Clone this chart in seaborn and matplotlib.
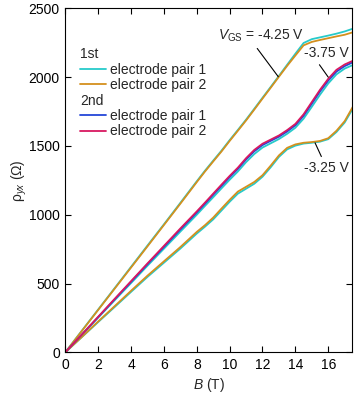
import numpy as np
import pandas as pd
import seaborn as sns
import matplotlib.pyplot as plt
from matplotlib.lines import Line2D

sns.set_theme(style="ticks")
plt.rcParams['font.family'] = ['Liberation Sans', 'DejaVu Sans']
plt.rcParams['mathtext.fontset'] = 'custom'
plt.rcParams['mathtext.rm'] = 'Liberation Sans'
plt.rcParams['mathtext.it'] = 'Liberation Sans:italic'

# magnetic field (T)
B = [0, 1, 2, 3, 4, 5, 6, 7, 8, 8.5, 9, 9.5, 10, 10.5, 11, 11.5, 12, 12.5,
     13, 13.5, 14, 14.5, 15, 15.5, 16, 16.5, 17, 17.5]

# rho_yx (Ohm)
top_pair1_1st = [0, 156, 311, 466, 621, 776, 930, 1086, 1243, 1320, 1393, 1465, 1542, 1616,
                 1691, 1770, 1850, 1929, 2009, 2090, 2170, 2248, 2276, 2289, 2302, 2316, 2332, 2352]
top_pair2_1st = [0, 154, 308, 462, 616, 770, 925, 1080, 1237, 1314, 1387, 1459, 1536, 1610,
                 1685, 1764, 1844, 1923, 2003, 2082, 2157, 2231, 2256, 2270, 2283, 2296, 2308, 2326]
mid_pair1_1st = [0, 126, 252, 378, 503, 629, 753, 877, 1000, 1064, 1127, 1191, 1254, 1314,
                 1382, 1441, 1488, 1519, 1550, 1588, 1632, 1698, 1784, 1872, 1954, 2020, 2062, 2088]
mid_pair1_2nd = [0, 128, 256, 384, 512, 640, 766, 892, 1016, 1080, 1145, 1209, 1273, 1333,
                 1402, 1461, 1506, 1537, 1567, 1605, 1650, 1719, 1807, 1896, 1975, 2040, 2080, 2108]
mid_pair2_2nd = [0, 129, 258, 388, 517, 646, 773, 900, 1024, 1088, 1153, 1218, 1282, 1342,
                 1411, 1471, 1516, 1546, 1576, 1615, 1660, 1730, 1819, 1908, 1988, 2053, 2092, 2119]
low_pair1_1st = [0, 110, 220, 329, 439, 548, 651, 754, 863, 913, 966, 1030, 1094, 1153,
                 1189, 1225, 1276, 1345, 1420, 1475, 1502, 1517, 1523, 1531, 1549, 1601, 1670, 1772]
low_pair2_1st = [0, 111, 224, 335, 447, 557, 661, 765, 875, 924, 979, 1044, 1108, 1168,
                 1203, 1238, 1287, 1357, 1431, 1486, 1511, 1523, 1528, 1536, 1556, 1610, 1680, 1785]

series = ["1st pair 1", "1st pair 2", "2nd pair 1", "2nd pair 2"]
palette = {"1st pair 1": "#26CACA", "1st pair 2": "#D4901E",
           "2nd pair 1": "#2446D8", "2nd pair 2": "#D81860"}

curves = [("-4.25", "1st pair 1", top_pair1_1st), ("-4.25", "1st pair 2", top_pair2_1st),
          ("-3.75", "1st pair 1", mid_pair1_1st), ("-3.75", "2nd pair 1", mid_pair1_2nd),
          ("-3.75", "2nd pair 2", mid_pair2_2nd),
          ("-3.25", "1st pair 1", low_pair1_1st), ("-3.25", "1st pair 2", low_pair2_1st)]
rows = []
for vgs, s, vals in curves:
    for b, r in zip(B, vals):
        rows.append({"B": b, "rho": r, "series": s, "vgs": vgs})
df = pd.DataFrame(rows)

fig = plt.figure(figsize=(3.54, 3.97), dpi=100)
ax = fig.add_axes([0.1845, 0.1126, 0.81, 0.8664])

sns.lineplot(data=df, x="B", y="rho", hue="series", hue_order=series, units="vgs",
             estimator=None, palette=palette, lw=1.3, legend=False, ax=ax, sort=False)

ax.set_xlim(0, 17.45)
ax.set_ylim(0, 2500)
ax.set_xticks(range(0, 17, 2))
ax.set_yticks(range(0, 2501, 500))
ax.tick_params(direction="in", top=True, right=True, length=4.5, width=0.8,
               labelsize=10, colors="black", pad=4)
for sp in ax.spines.values():
    sp.set_visible(True)
    sp.set_color("black")
    sp.set_linewidth(0.8)
ax.set_xlabel(r"$\it{B}$ (T)", fontsize=10, labelpad=3)
ax.set_ylabel(r"ρ$_{\it{yx}}$ ($\it{Ω}$)", fontsize=10, labelpad=0)

# gate voltage labels
line_kw = dict(arrowstyle="-", color="black", lw=0.8, shrinkA=1, shrinkB=0)
ax.annotate(r"$\it{V}_{\rm GS}$ = -4.25 V", xy=(12.96, 2003), xytext=(11.9, 2300),
            ha="center", va="center", fontsize=10,
            arrowprops=dict(relpos=(0.42, 0), **line_kw))
ax.annotate("-3.75 V", xy=(16.0, 2000), xytext=(15.9, 2173),
            ha="center", va="center", fontsize=10,
            arrowprops=dict(relpos=(0.27, 0), **line_kw))
ax.annotate("-3.25 V", xy=(15.2, 1522), xytext=(15.9, 1339),
            ha="center", va="center", fontsize=10,
            arrowprops=dict(relpos=(0.43, 1), **line_kw))

# legends
leg_kw = dict(frameon=False, fontsize=10, title_fontsize=10, alignment="left",
              loc="upper left", borderpad=0, borderaxespad=0, handlelength=1.9,
              handletextpad=0.3, labelspacing=0.1)
h1 = [Line2D([], [], color=palette["1st pair 1"], lw=1.3),
      Line2D([], [], color=palette["1st pair 2"], lw=1.3)]
h2 = [Line2D([], [], color=palette["2nd pair 1"], lw=1.3),
      Line2D([], [], color=palette["2nd pair 2"], lw=1.3)]
leg1 = ax.legend(h1, ["electrode pair 1", "electrode pair 2"], title="1st",
                 bbox_to_anchor=(0.051, 0.887), **leg_kw)
ax.add_artist(leg1)
ax.legend(h2, ["electrode pair 1", "electrode pair 2"], title="2nd",
          bbox_to_anchor=(0.051, 0.752), **leg_kw)

fig.savefig("out.png", dpi=100)
